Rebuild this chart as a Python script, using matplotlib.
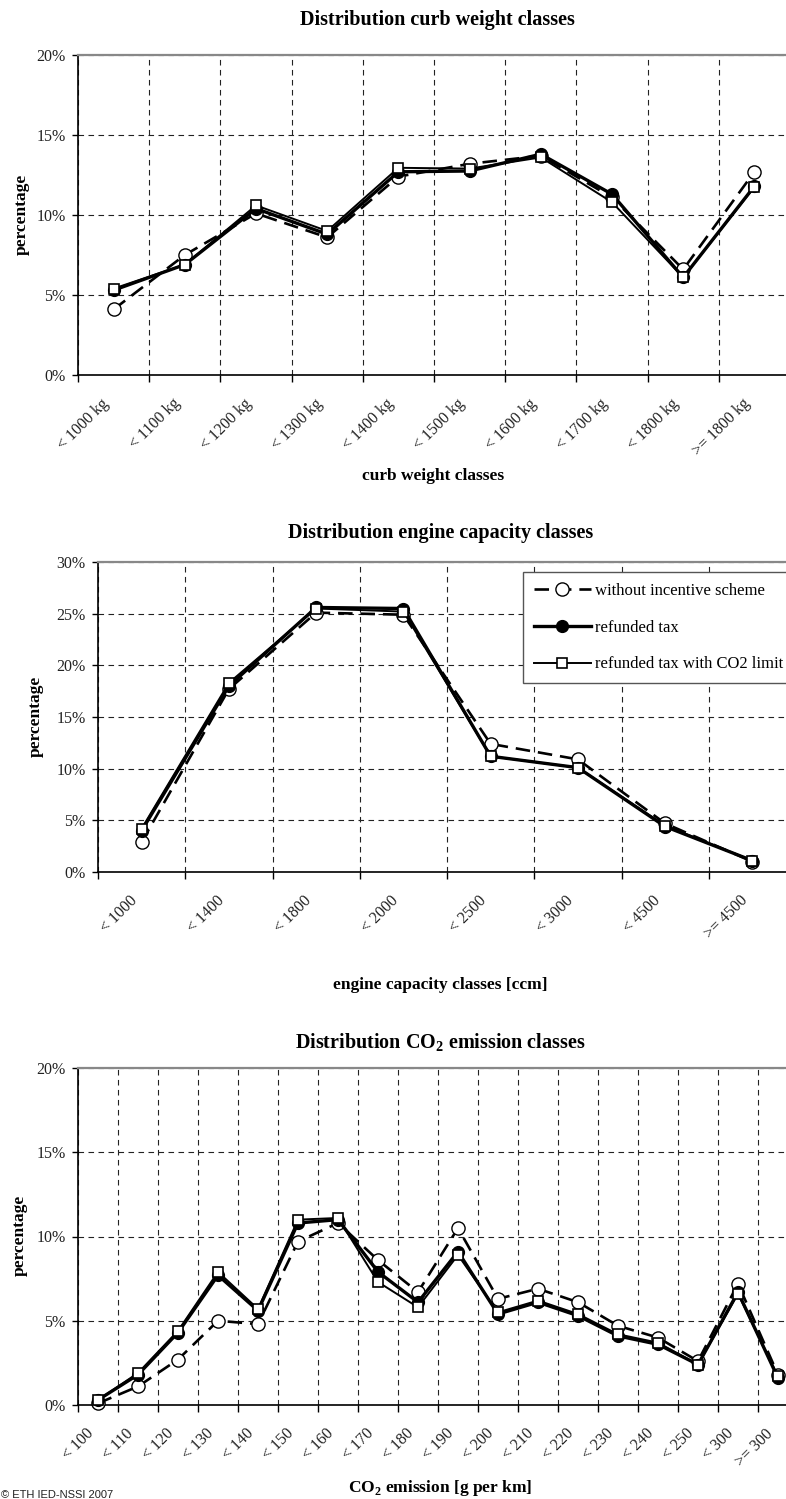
import numpy as np
import matplotlib
matplotlib.use("Agg")
import matplotlib.pyplot as plt
from matplotlib.transforms import ScaledTranslation
from matplotlib.lines import Line2D

plt.rcParams['font.family'] = ['Liberation Serif', 'DejaVu Serif']
plt.rcParams['mathtext.fontset'] = 'custom'
plt.rcParams['mathtext.rm'] = 'Liberation Serif'
plt.rcParams['mathtext.bf'] = 'Liberation Serif:bold'

# ---------------- data ----------------
series_names = ["without incentive scheme", "refunded tax", "refunded tax with CO2 limit"]

weight_labels = ["< 1000 kg", "< 1100 kg", "< 1200 kg", "< 1300 kg", "< 1400 kg",
                 "< 1500 kg", "< 1600 kg", "< 1700 kg", "< 1800 kg", ">= 1800 kg"]
weight_without = [4.1, 7.5, 10.1, 8.6, 12.4, 13.2, 13.7, 11.1, 6.6, 12.7]
weight_refunded = [5.3, 6.9, 10.4, 8.8, 12.7, 12.75, 13.8, 11.3, 6.1, 11.8]
weight_co2limit = [5.4, 6.9, 10.6, 9.0, 12.95, 12.9, 13.6, 10.8, 6.1, 11.75]

engine_labels = ["< 1000", "< 1400", "< 1800", "< 2000", "< 2500", "< 3000", "< 4500", ">= 4500"]
engine_without = [2.9, 17.7, 25.1, 24.9, 12.4, 10.9, 4.7, 1.0]
engine_refunded = [4.0, 18.0, 25.6, 25.5, 11.2, 10.1, 4.4, 1.1]
engine_co2limit = [4.2, 18.3, 25.5, 25.2, 11.2, 10.1, 4.5, 1.1]

co2_labels = ["< 100", "< 110", "< 120", "< 130", "< 140", "< 150", "< 160", "< 170", "< 180",
              "< 190", "< 200", "< 210", "< 220", "< 230", "< 240", "< 250", "< 300", ">= 300"]
co2_without = [0.1, 1.1, 2.7, 5.0, 4.8, 9.7, 10.8, 8.6, 6.7, 10.5, 6.3, 6.9, 6.1, 4.7, 4.0, 2.6, 7.2, 1.8]
co2_refunded = [0.3, 1.8, 4.3, 7.7, 5.6, 10.8, 11.0, 7.9, 6.1, 9.1, 5.4, 6.1, 5.3, 4.1, 3.6, 2.4, 6.7, 1.6]
co2_co2limit = [0.3, 1.9, 4.4, 7.9, 5.7, 11.0, 11.1, 7.3, 5.8, 8.9, 5.5, 6.2, 5.4, 4.2, 3.7, 2.4, 6.6, 1.7]

# ---------------- figure ----------------
W, H = 786, 1499
fig = plt.figure(figsize=(W / 100, H / 100), dpi=100)

DASH = (0, (5.5, 3))


def px_axes(left, right, top, bottom):
    return fig.add_axes([left / W, 1 - bottom / H, (right - left) / W, (bottom - top) / H])


def style_panel(ax, labels, ymax, without, refunded, co2limit):
    n = len(labels)
    x = np.arange(n) + 0.5
    ax.set_xlim(0, n)
    ax.set_ylim(0, ymax)
    ax.set_xticks(np.arange(n + 1))
    ax.set_xticklabels([])
    ax.set_xticks(x, minor=True)
    ax.set_xticklabels(labels, minor=True)
    ax.set_yticks(np.arange(0, ymax + 0.1, 5))
    ax.set_yticklabels([f"{v:.0f}%" for v in np.arange(0, ymax + 0.1, 5)])
    ax.tick_params(axis='x', which='major', direction='out', length=5, width=1, color='black')
    ax.tick_params(axis='x', which='minor', length=0, pad=19, labelsize=11.5, labelcolor='#222222')
    ax.tick_params(axis='y', which='major', direction='out', length=4, width=1,
                   labelsize=11.5, labelcolor='#222222', pad=5)
    off = ScaledTranslation(-7 / 100, 0, fig.dpi_scale_trans)
    for lab in ax.get_xticklabels(minor=True):
        lab.set_rotation(45)
        lab.set_ha('right')
        lab.set_va('center')
        lab.set_rotation_mode('anchor')
        lab.set_transform(lab.get_transform() + off)
    ax.grid(True, which='major', color='#222222', linestyle=(0, (5, 4)), linewidth=0.8)
    ax.set_axisbelow(True)
    for s in ['left', 'bottom']:
        ax.spines[s].set_color('black')
        ax.spines[s].set_linewidth(1.2)
    ax.spines['top'].set_color('#888888')
    ax.spines['top'].set_linewidth(1.6)
    ax.spines['right'].set_visible(False)

    ax.plot(x, without, color='black', linestyle=DASH, linewidth=1.9,
            marker='o', markersize=9.5, markerfacecolor='white', markeredgecolor='black',
            markeredgewidth=1.0, zorder=3, clip_on=False)
    ax.plot(x, refunded, color='black', linestyle='-', linewidth=2.4,
            marker='o', markersize=8.5, markerfacecolor='black', markeredgecolor='black',
            zorder=4, clip_on=False)
    ax.plot(x, co2limit, color='black', linestyle='-', linewidth=1.4,
            marker='s', markersize=6.5, markerfacecolor='white', markeredgecolor='black',
            markeredgewidth=1.2, zorder=5, clip_on=False)


ax1 = px_axes(78, 790, 55, 375)
style_panel(ax1, weight_labels, 20, weight_without, weight_refunded, weight_co2limit)
ax2 = px_axes(98, 796, 562, 872)
style_panel(ax2, engine_labels, 30, engine_without, engine_refunded, engine_co2limit)
ax3 = px_axes(78, 798, 1068, 1405)
style_panel(ax3, co2_labels, 20, co2_without, co2_refunded, co2_co2limit)

# y axis labels
for xc, yc in [(22, 214), (36, 716), (20, 1235)]:
    fig.text(xc / W, 1 - yc / H, "percentage", rotation=90, ha='center', va='center',
             fontsize=12.5, fontweight='bold')

# titles and axis labels
fig.text(437 / W, 1 - 20 / H, "Distribution curb weight classes", ha='center', va='center',
         fontsize=14.5, fontweight='bold')
fig.text(441 / W, 1 - 533 / H, "Distribution engine capacity classes", ha='center', va='center',
         fontsize=14.5, fontweight='bold')
fig.text(440 / W, 1 - 1043 / H, r"Distribution CO$_\mathbf{2}$ emission classes", ha='center', va='center',
         fontsize=14.5, fontweight='bold')
fig.text(433 / W, 1 - 476 / H, "curb weight classes", ha='center', va='center',
         fontsize=12.5, fontweight='bold')
fig.text(440 / W, 1 - 985 / H, "engine capacity classes [ccm]", ha='center', va='center',
         fontsize=12.5, fontweight='bold')
fig.text(440 / W, 1 - 1488 / H, r"CO$_\mathbf{2}$ emission [g per km]", ha='center', va='center',
         fontsize=12.5, fontweight='bold')
fig.text(1 / W, 1 - 1498 / H, "\u00a9 ETH IED-NSSI 2007", ha='left', va='baseline',
         fontsize=8, family=['Liberation Sans', 'DejaVu Sans'], color='#222222')

# legend
handles = [
    Line2D([], [], color='black', linestyle=DASH, linewidth=1.9, marker='o', markersize=9.5,
           markerfacecolor='white', markeredgecolor='black', markeredgewidth=1.0),
    Line2D([], [], color='black', linestyle='-', linewidth=2.4, marker='o', markersize=8.5,
           markerfacecolor='black', markeredgecolor='black'),
    Line2D([], [], color='black', linestyle='-', linewidth=1.4, marker='s', markersize=6.5,
           markerfacecolor='white', markeredgecolor='black', markeredgewidth=1.2),
]
p2 = ax2.get_position()
leg = ax2.legend(handles, series_names, loc='upper left',
                 bbox_to_anchor=((523 - 98) / (p2.width * W), 1 - (572 - 562) / (p2.height * H)),
                 prop={'size': 12}, frameon=True, fancybox=False, shadow=False, framealpha=1,
                 edgecolor='#555555', handlelength=3.4, handletextpad=0.25, labelspacing=1.25,
                 borderpad=0.65, borderaxespad=0)
leg.get_frame().set_linewidth(1.0)

fig.savefig("out.png", dpi=100)
